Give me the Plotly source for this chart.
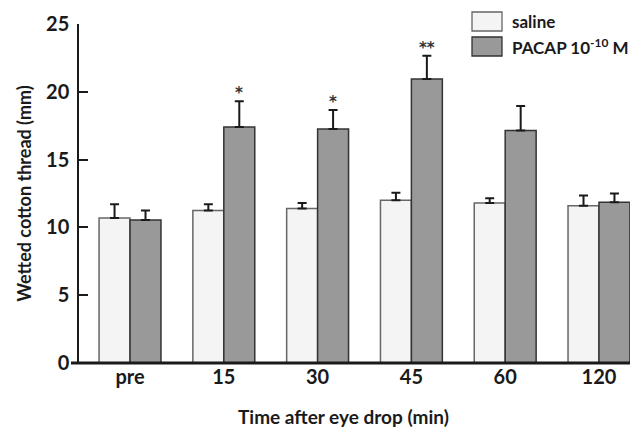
import plotly.graph_objects as go

categories = ["pre", "15", "30", "45", "60", "120"]
saline = [10.7, 11.25, 11.4, 12.0, 11.8, 11.6]
saline_err = [1.0, 0.45, 0.4, 0.55, 0.35, 0.75]
pacap = [10.55, 17.4, 17.25, 20.95, 17.15, 11.85]
pacap_err = [0.7, 1.9, 1.4, 1.7, 1.8, 0.65]
signif = ["", "*", "*", "**", "", ""]

FONT = "Lato"
OFF = 8  # page body margin
W, H = 638 - OFF, 428 - OFF
L, R, T, B = 79 - OFF, 0, 24 - OFF, 65
PW, PH = W - L - R, H - T - B

fig = go.Figure()
fig.add_bar(x=categories, y=saline, name="saline",
            marker=dict(color="#f4f4f4", line=dict(color="#666666", width=1.5)),
            error_y=dict(type="data", array=saline_err, arrayminus=[0]*len(saline),
                         symmetric=False, color="#1a1a1a", thickness=2, width=4.5))
fig.add_bar(x=categories, y=pacap, name="PACAP 10<sup>-10</sup> M",
            marker=dict(color="#999999", line=dict(color="#333333", width=1.5)),
            error_y=dict(type="data", array=pacap_err, arrayminus=[0]*len(pacap),
                         symmetric=False, color="#1a1a1a", thickness=2, width=4.5))

bargap = 0.34
half = (1 - bargap) / 4
for i, s in enumerate(signif):
    if s:
        fig.add_annotation(x=i + half, y=pacap[i] + pacap_err[i], xref="x", yref="y",
                           text="<b>" + s + "</b>", showarrow=False, yanchor="bottom",
                           yshift=-3,
                           font=dict(family="DejaVu Sans", size=15, color="#333333"))

# x axis line extending left of the y axis
fig.add_shape(type="line", xref="paper", yref="paper", x0=-8 / PW, x1=1, y0=0, y1=0,
              line=dict(color="#1a1a1a", width=3))

# reference-pixel coordinates converted to paper
def px_x(px):
    return (px - OFF - L) / PW

def px_y(py):
    return (H - B - (py - OFF)) / PH

legend = [("saline", "#f4f4f4", "#666666", 12, 31),
          ("PACAP 10<sup>-10</sup> M", "#999999", "#333333", 37, 56)]
for text, fill, line, y0, y1 in legend:
    fig.add_shape(type="rect", xref="paper", yref="paper",
                  x0=px_x(472), x1=px_x(502), y0=px_y(y1), y1=px_y(y0),
                  fillcolor=fill, line=dict(color=line, width=1.3))
    fig.add_annotation(xref="paper", yref="paper", x=px_x(510), y=px_y((y0 + y1) / 2),
                       text="<b>" + text + "</b>", showarrow=False, xanchor="left",
                       yanchor="middle", font=dict(family=FONT, size=17, color="#1a1a1a"))

# x-axis title (offset left of plot centre, as in the reference)
fig.add_annotation(xref="paper", yref="paper", x=px_x(343), y=px_y(416),
                   text="<b>Time after eye drop (min)</b>", showarrow=False,
                   xanchor="center", yanchor="middle",
                   font=dict(family=FONT, size=19, color="#1a1a1a"))

fig.update_layout(
    width=W, height=H, margin=dict(l=L, r=R, t=T, b=B, autoexpand=False),
    paper_bgcolor="white", plot_bgcolor="white",
    barmode="group", bargap=bargap, bargroupgap=0, showlegend=False,
    font=dict(family=FONT, color="#1a1a1a"),
)
fig.update_xaxes(range=[-0.544, 5.416], showline=False, ticks="", showgrid=False,
                 tickfont=dict(family=FONT, size=20, weight="bold", color="#1a1a1a"))
fig.update_yaxes(range=[0, 25], tickvals=[0, 5, 10, 15, 20, 25], showline=True,
                 linecolor="#1a1a1a", linewidth=1.5, ticks="inside", ticklen=9,
                 tickwidth=1.5, tickcolor="#1a1a1a", showgrid=False, zeroline=False,
                 ticklabelstandoff=4,
                 tickfont=dict(family=FONT, size=20, weight="bold", color="#1a1a1a"),
                 title=dict(text="<b>Wetted cotton thread (mm)</b>", standoff=10,
                            font=dict(family=FONT, size=18, color="#1a1a1a")))

fig.write_html("out.html")
